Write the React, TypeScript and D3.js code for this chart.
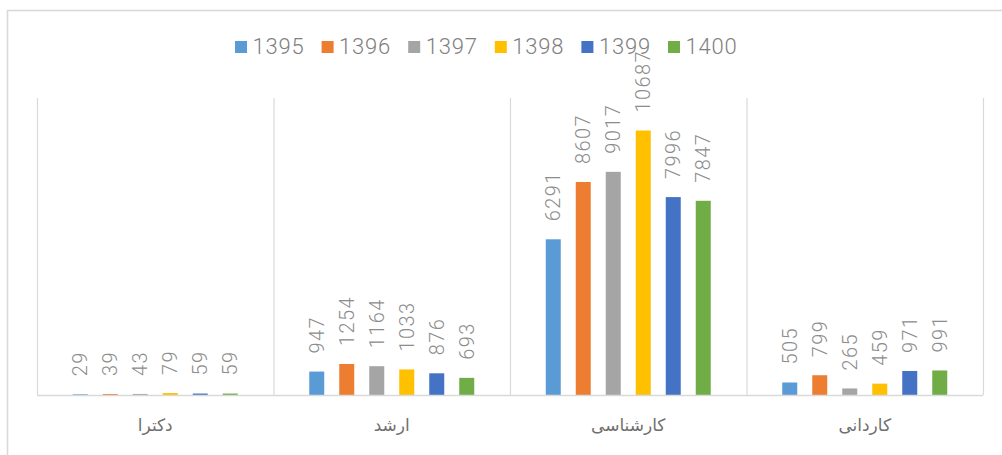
import React from "react";
import * as d3 from "d3";

const categories = ["دکترا", "ارشد", "کارشناسی", "کاردانی"];
const years = ["1395", "1396", "1397", "1398", "1399", "1400"];
const v1395 = [29, 947, 6291, 505];
const v1396 = [39, 1254, 8607, 799];
const v1397 = [43, 1164, 9017, 265];
const v1398 = [79, 1033, 10687, 459];
const v1399 = [59, 876, 7996, 971];
const v1400 = [59, 693, 7847, 991];
const seriesValues = [v1395, v1396, v1397, v1398, v1399, v1400];
const colors = ["#5B9BD5", "#ED7D31", "#A5A5A5", "#FFC000", "#4472C4", "#70AD47"];

const W = 1002;
const H = 455;
const plot = { left: 37, right: 983, top: 98, bottom: 395 };

export default function App() {
  const x0 = d3
    .scaleBand<string>()
    .domain(categories)
    .range([plot.left, plot.right])
    .paddingInner(0)
    .paddingOuter(0);
  const bw = x0.bandwidth();
  const x1 = d3
    .scaleBand<string>()
    .domain(years)
    .range([35.75, bw - 35.75])
    .paddingInner(0.5)
    .paddingOuter(0);
  const y = d3.scaleLinear().domain([0, 12000]).range([plot.bottom, plot.top]);

  const legendX = d3.scaleLinear().domain([0, 5]).range([235, 668]);
  const dividers = d3.range(categories.length + 1).map((i) =>
    i < categories.length ? (x0(categories[i]) as number) : plot.right
  );

  return (
    <svg
      width={W}
      height={H}
      style={{ position: "absolute", left: 0, top: 0, background: "#fff" }}
    >
      <rect x={7.5} y={10.5} width={W + 20} height={H + 20} fill="#fff" stroke="#d9d9d9" strokeWidth={1.6} />
      {dividers.map((d, i) => (
        <line key={i} x1={d + 0.5} x2={d + 0.5} y1={plot.top} y2={plot.bottom} stroke="#d9d9d9" strokeWidth={1.2} />
      ))}
      {seriesValues.map((vals, si) =>
        vals.map((v, ci) => {
          const bx = (x0(categories[ci]) as number) + (x1(years[si]) as number);
          const w = x1.bandwidth();
          const top = y(v);
          const cx = bx + w / 2;
          return (
            <g key={`${si}-${ci}`}>
              <rect x={bx} y={top} width={w} height={plot.bottom - top} fill={colors[si]} />
              <text
                transform={`translate(${cx},${top - 18}) rotate(-90)`}
                dy="0.35em"
                fontFamily="Roboto"
                fontWeight={300}
                fontSize={20}
                letterSpacing={1.4}
                fill="#8c8c8c"
              >
                {v}
              </text>
            </g>
          );
        })
      )}
      <line x1={plot.left} x2={plot.right} y1={plot.bottom + 0.5} y2={plot.bottom + 0.5} stroke="#d9d9d9" strokeWidth={1.6} />
      {categories.map((c) => (
        <text
          key={c}
          x={(x0(c) as number) + bw / 2}
          y={431}
          textAnchor="middle"
          fontFamily="DejaVu Sans"
          fontSize={17}
          fill="#6f6f6f"
          letterSpacing={5}
        >
          {c}
        </text>
      ))}
      {years.map((yr, i) => (
        <g key={yr}>
          <rect x={legendX(i)} y={41} width={12} height={12} fill={colors[i]} />
          <text x={legendX(i) + 17.5} y={53.5} fontFamily="Roboto" fontWeight={300} fontSize={22} letterSpacing={0.8} fill="#808080">
            {yr}
          </text>
        </g>
      ))}
    </svg>
  );
}
